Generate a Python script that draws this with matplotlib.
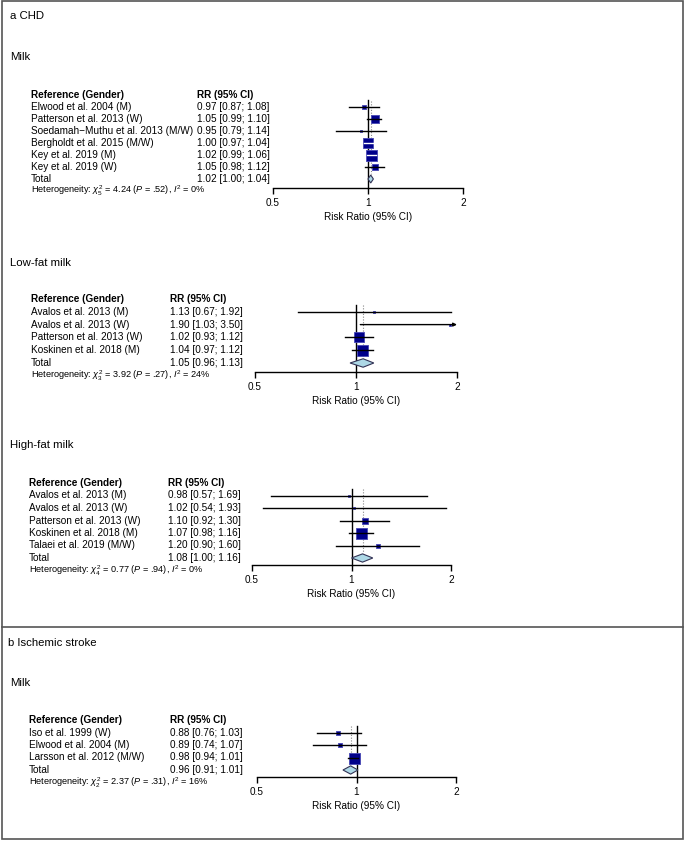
#!/usr/bin/env python
"""Forest plots: milk intake and CHD / ischemic stroke"""

import matplotlib
matplotlib.use('Agg')
import matplotlib.pyplot as plt
import matplotlib.transforms as mtransforms
import numpy as np

plt.rcParams['font.family'] = ['Liberation Sans', 'DejaVu Sans']
plt.rcParams['mathtext.fontset'] = 'custom'
plt.rcParams['mathtext.rm'] = 'Liberation Sans'
plt.rcParams['mathtext.it'] = 'Liberation Sans:italic'

W, H = 685, 841

# a CHD - milk
milk_studies = ['Elwood et al. 2004 (M)', 'Patterson et al. 2013 (W)',
                'Soedamah\u2212Muthu et al. 2013 (M/W)', 'Bergholdt et al. 2015 (M/W)',
                'Key et al. 2019 (M)', 'Key et al. 2019 (W)']
milk_rr = [0.97, 1.05, 0.95, 1.00, 1.02, 1.05]
milk_lo = [0.87, 0.99, 0.79, 0.97, 0.99, 0.98]
milk_hi = [1.08, 1.10, 1.14, 1.04, 1.06, 1.12]
milk_weight = [3.6, 15.1, 1.2, 34.6, 36.0, 9.4]
milk_total = [1.02, 1.00, 1.04]
milk_het = ['5', '4.24', '.52', '0']

# a CHD - low-fat milk
lowfat_studies = ['Avalos et al. 2013 (M)', 'Avalos et al. 2013 (W)',
                  'Patterson et al. 2013 (W)', 'Koskinen et al. 2018 (M)']
lowfat_rr = [1.13, 1.90, 1.02, 1.04]
lowfat_lo = [0.67, 1.03, 0.93, 0.97]
lowfat_hi = [1.92, 3.50, 1.12, 1.12]
lowfat_weight = [2.5, 2.0, 42.0, 53.5]
lowfat_total = [1.05, 0.96, 1.13]
lowfat_het = ['3', '3.92', '.27', '24']

# a CHD - high-fat milk
highfat_studies = ['Avalos et al. 2013 (M)', 'Avalos et al. 2013 (W)',
                   'Patterson et al. 2013 (W)', 'Koskinen et al. 2018 (M)',
                   'Talaei et al. 2019 (M/W)']
highfat_rr = [0.98, 1.02, 1.10, 1.07, 1.20]
highfat_lo = [0.57, 0.54, 0.92, 0.98, 0.90]
highfat_hi = [1.69, 1.93, 1.30, 1.16, 1.60]
highfat_weight = [1.8, 1.3, 17.4, 73.3, 6.3]
highfat_total = [1.08, 1.00, 1.16]
highfat_het = ['4', '0.77', '.94', '0']

# b Ischemic stroke - milk
stroke_studies = ['Iso et al. 1999 (W)', 'Elwood et al. 2004 (M)',
                  'Larsson et al. 2012 (M/W)']
stroke_rr = [0.88, 0.89, 0.98]
stroke_lo = [0.76, 0.74, 0.94]
stroke_hi = [1.03, 1.07, 1.01]
stroke_weight = [11.5, 8.5, 80.0]
stroke_total = [0.96, 0.91, 1.01]
stroke_het = ['2', '2.37', '.31', '16']

# layout in pixels: header row y, row pitch, axis line y, x of 0.5 and 2,
# x of reference column and RR column
panels = [
    dict(data=(milk_studies, milk_rr, milk_lo, milk_hi, milk_weight, milk_total, milk_het),
         header=95, pitch=12.0, axis=188, x05=273, x2=463, xref=31, xrr=197),
    dict(data=(lowfat_studies, lowfat_rr, lowfat_lo, lowfat_hi, lowfat_weight, lowfat_total, lowfat_het),
         header=299, pitch=12.8, axis=372, x05=255, x2=457, xref=31, xrr=170),
    dict(data=(highfat_studies, highfat_rr, highfat_lo, highfat_hi, highfat_weight, highfat_total, highfat_het),
         header=483, pitch=12.5, axis=565, x05=252, x2=451, xref=29, xrr=168),
    dict(data=(stroke_studies, stroke_rr, stroke_lo, stroke_hi, stroke_weight, stroke_total, stroke_het),
         header=720, pitch=12.5, axis=777, x05=257, x2=456, xref=29, xrr=170),
]

titles = [
    ('a CHD', 10, 16),
    ('Milk', 10, 57),
    ('Low-fat milk', 10, 263),
    ('High-fat milk', 10, 445),
    ('b Ischemic stroke', 8, 643),
    ('Milk', 10, 683),
]

FS = 7.2
SQUARE = '#00008B'
SQUARE_EDGE = '#4646B4'
DIAMOND = '#ADD8E6'


def draw_forest(fig, p):
    studies, rr, lo, hi, weight, total, het = p['data']
    n = len(studies)
    top_px = p['header'] - 0.5 * p['pitch']
    ax = fig.add_axes([p['x05'] / W, 1 - p['axis'] / H,
                       (p['x2'] - p['x05']) / W, (p['axis'] - top_px) / H])
    ax.set_xscale('log')
    ax.set_xlim(0.5, 2)
    ybottom = (p['axis'] - p['header']) / p['pitch']
    ax.set_ylim(ybottom, -0.5)

    for s in ['top', 'left', 'right']:
        ax.spines[s].set_visible(False)
    ax.spines['bottom'].set_linewidth(1.0)
    ax.set_yticks([])
    ax.set_xticks([0.5, 1, 2])
    ax.set_xticklabels(['0.5', '1', '2'])
    ax.minorticks_off()
    ax.tick_params(axis='x', direction='out', length=4, width=1.0, pad=3, labelsize=FS)
    ax.set_xlabel('Risk Ratio (95% CI)', fontsize=FS, labelpad=3)
    ax.patch.set_visible(False)

    # text columns: x in figure pixels, y in rows
    trans = mtransforms.blended_transform_factory(fig.transFigure, ax.transData)
    xref = p['xref'] / W
    xrr = p['xrr'] / W
    ax.text(xref, 0, 'Reference (Gender)', transform=trans, fontsize=FS,
            fontweight='bold', va='center')
    ax.text(xrr, 0, 'RR (95% CI)', transform=trans, fontsize=FS,
            fontweight='bold', va='center')
    rows = np.arange(1, n + 1)
    for i, name in enumerate(studies):
        ax.text(xref, rows[i], name, transform=trans, fontsize=FS, va='center')
        ax.text(xrr, rows[i], '%.2f [%.2f; %.2f]' % (rr[i], lo[i], hi[i]),
                transform=trans, fontsize=FS, va='center')
    ax.text(xref, n + 1, 'Total', transform=trans, fontsize=FS, va='center')
    ax.text(xrr, n + 1, '%.2f [%.2f; %.2f]' % tuple(total), transform=trans,
            fontsize=FS, va='center')
    ax.text(xref, n + 2,
            r'Heterogeneity: $\chi^2_{%s}$ = %s ($P$ = %s), $I^2$ = %s%%' % tuple(het),
            transform=trans, fontsize=6.6, va='center')

    # reference line and pooled estimate line
    ax.plot([1, 1], [0.45, ybottom], color='black', lw=1.0, clip_on=False, zorder=1)
    ax.plot([total[0], total[0]], [0.5, n + 0.6], color='#888888', lw=0.8,
            ls=(0, (1, 1.5)), zorder=1)

    # squares and CI lines
    px_per_dec = (p['x2'] - p['x05']) / np.log10(4)
    wmax = max(weight)
    for i in range(n):
        side = max(11.0 * np.sqrt(weight[i] / wmax), 1.8)
        xc = np.log10(rr[i]) * px_per_dec
        inside = (xc - np.log10(lo[i]) * px_per_dec < side / 2 and
                  np.log10(hi[i]) * px_per_dec - xc < side / 2)
        ax.scatter([rr[i]], [rows[i]], marker='s', s=(side * 0.72) ** 2,
                   facecolor=SQUARE, edgecolor=SQUARE_EDGE, linewidth=0.6, zorder=3)
        if hi[i] > 2:
            ax.annotate('', xy=(2, rows[i]), xytext=(lo[i], rows[i]),
                        arrowprops=dict(arrowstyle='-|>', lw=1.0, color='black',
                                        mutation_scale=5, shrinkA=0, shrinkB=0),
                        zorder=4, annotation_clip=False)
        else:
            ax.plot([lo[i], hi[i]], [rows[i], rows[i]],
                    color='white' if inside else 'black', lw=1.0, zorder=4)

    # pooled diamond
    yt = n + 1
    h = 0.33
    ax.fill([total[1], total[0], total[2], total[0]], [yt, yt - h, yt, yt + h],
            facecolor=DIAMOND, edgecolor='#333355', lw=0.8, zorder=3)
    return ax


fig = plt.figure(figsize=(W / 100, H / 100), dpi=100)

for p in panels:
    draw_forest(fig, p)

for txt, x, y in titles:
    fig.text(x / W, 1 - y / H, txt, fontsize=8.2, va='center', ha='left')

# outer frame and divider between panels a and b
fig.add_artist(plt.Rectangle((2 / W, 1 - 839 / H), 681 / W, 838 / H,
                             transform=fig.transFigure, fill=False,
                             edgecolor='#555555', lw=1.2))
fig.add_artist(plt.Line2D([2 / W, 683 / W], [1 - 627 / H, 1 - 627 / H],
                          transform=fig.transFigure, color='#555555', lw=1.2))

fig.savefig('out.png', dpi=100)
